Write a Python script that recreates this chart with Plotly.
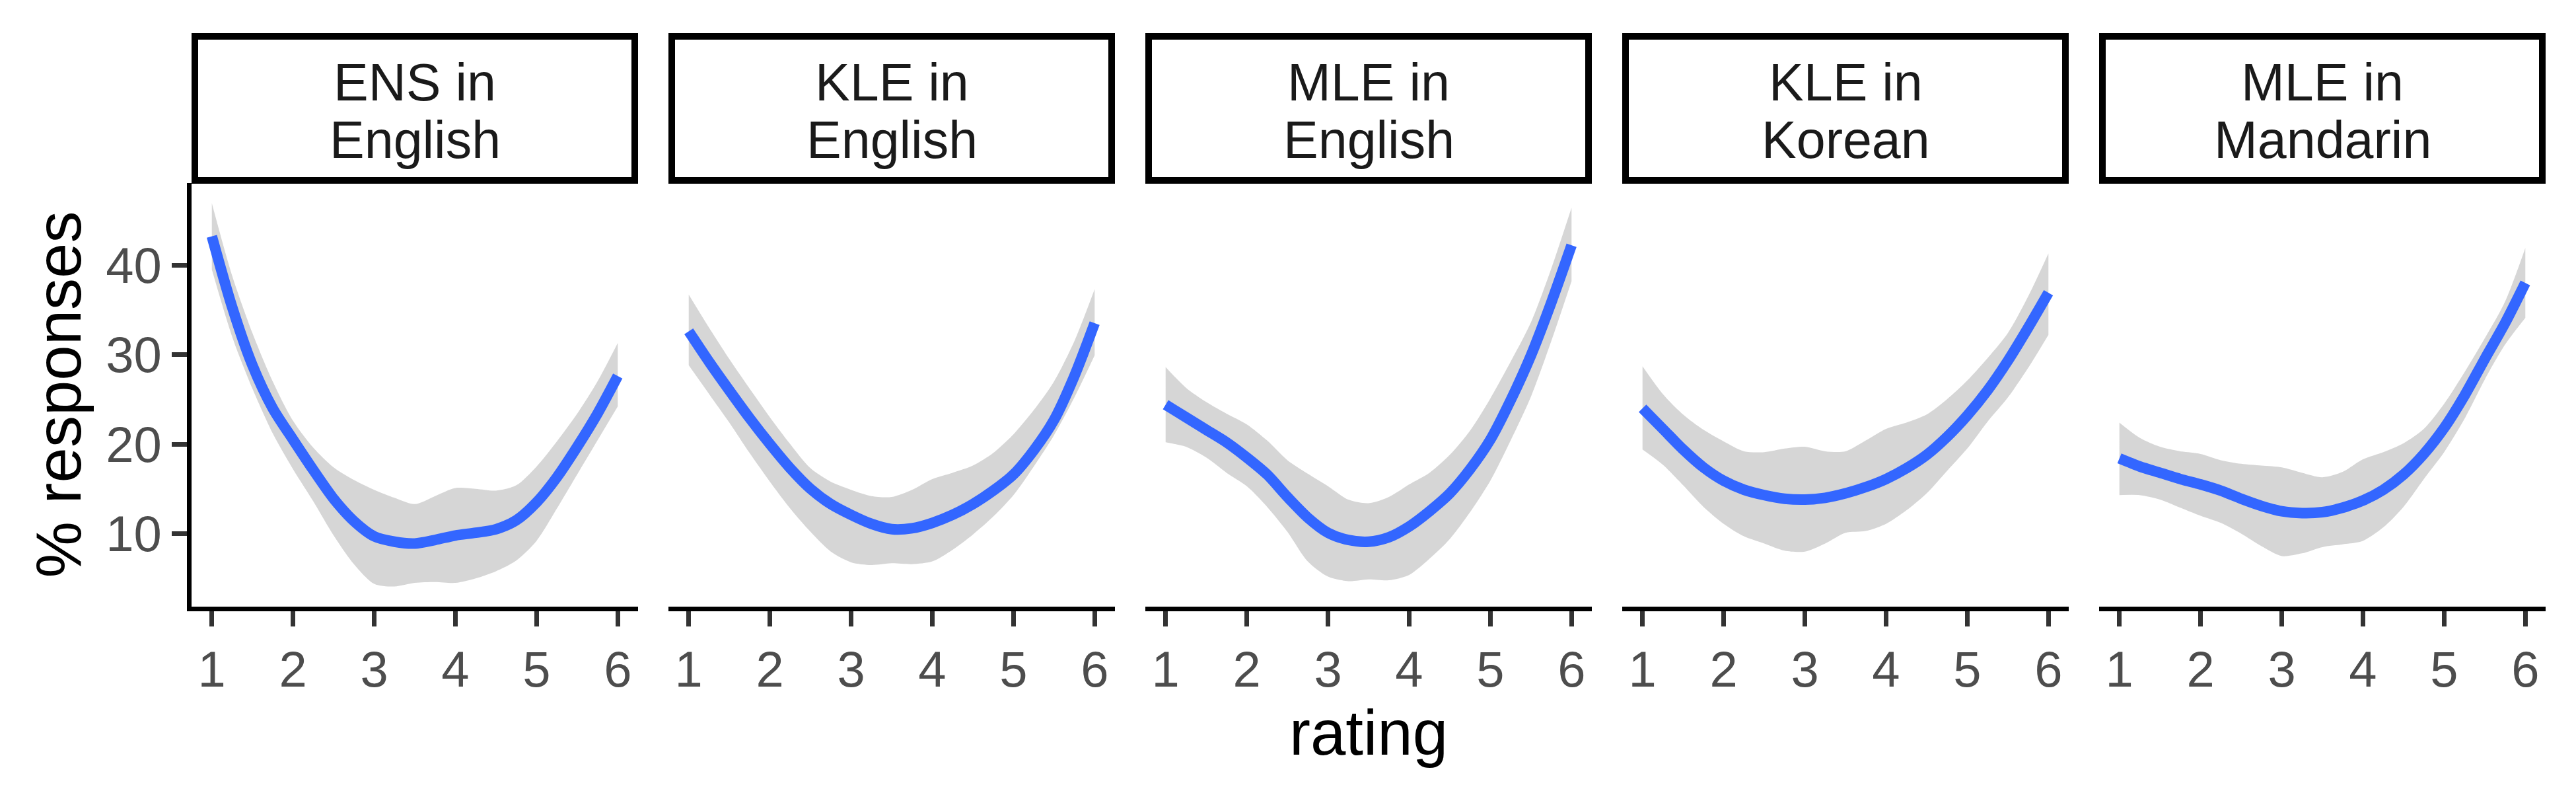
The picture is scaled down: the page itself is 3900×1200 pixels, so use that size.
import plotly.graph_objects as go

# ---------------- data ----------------
rating = [1.0, 1.25, 1.5, 1.75, 2.0, 2.25, 2.5, 2.75, 3.0, 3.25, 3.5,
          3.75, 4.0, 4.25, 4.5, 4.75, 5.0, 5.25, 5.5, 5.75, 6.0]

strip_line1 = ["ENS in", "KLE in", "MLE in", "KLE in", "MLE in"]
strip_line2 = ["English", "English", "English", "Korean", "Mandarin"]

ens_en_fit = [43.2, 35.3, 28.8, 24.0, 20.5, 17.1, 13.9, 11.4, 9.7, 9.1, 8.9,
              9.3, 9.8, 10.1, 10.5, 11.5, 13.5, 16.3, 19.7, 23.4, 27.6]
ens_en_hi = [46.9, 38.8, 32.4, 27.0, 22.6, 19.6, 17.4, 16.0, 14.9, 14.0, 13.3,
             14.2, 15.1, 15.0, 14.8, 15.4, 17.5, 20.3, 23.4, 27.0, 31.3]
ens_en_lo = [39.5, 32.0, 26.2, 21.2, 17.2, 13.6, 9.8, 6.6, 4.4, 4.1, 4.5,
             4.6, 4.5, 5.0, 5.8, 7.0, 9.2, 12.8, 16.6, 20.4, 24.2]

kle_en_fit = [32.6, 29.2, 26.0, 22.9, 20.0, 17.3, 15.0, 13.3, 12.1, 11.1, 10.5,
              10.6, 11.2, 12.1, 13.3, 14.8, 16.6, 19.3, 22.7, 27.6, 33.5]
kle_en_hi = [36.7, 33.0, 29.5, 26.2, 23.0, 20.0, 17.3, 15.8, 14.9, 14.2, 14.1,
             14.9, 16.1, 16.8, 17.6, 19.0, 21.1, 23.8, 27.0, 31.5, 37.3]
kle_en_lo = [28.8, 25.6, 22.4, 19.0, 15.8, 12.8, 10.2, 8.0, 6.8, 6.5, 6.7,
             6.6, 6.9, 8.2, 9.9, 11.9, 14.3, 17.5, 21.0, 25.2, 29.9]

mle_en_fit = [24.4, 23.0, 21.6, 20.2, 18.5, 16.6, 14.1, 11.8, 10.1, 9.3, 9.1,
              9.6, 10.8, 12.5, 14.5, 17.2, 20.5, 24.9, 29.9, 35.8, 42.2]
mle_en_hi = [28.6, 26.3, 24.7, 23.4, 22.2, 20.4, 18.2, 16.7, 15.3, 13.8, 13.4,
             14.1, 15.5, 16.8, 18.8, 21.5, 25.1, 29.2, 33.6, 39.6, 46.4]
mle_en_lo = [20.2, 19.7, 18.5, 16.8, 15.3, 13.0, 10.2, 6.9, 5.2, 4.7, 4.9,
             4.8, 5.4, 7.2, 9.4, 12.4, 15.9, 20.4, 25.3, 31.5, 38.2]

kle_ko_fit = [24.0, 21.7, 19.4, 17.4, 15.9, 14.9, 14.3, 13.9, 13.8, 14.0, 14.5,
              15.2, 16.1, 17.3, 18.8, 20.8, 23.2, 26.0, 29.3, 33.0, 36.9]
kle_ko_hi = [28.7, 25.6, 23.3, 21.6, 20.3, 19.2, 19.1, 19.5, 19.7, 19.2, 19.2,
             20.4, 21.7, 22.4, 23.3, 25.0, 27.1, 29.6, 32.4, 36.5, 41.3]
kle_ko_lo = [19.4, 17.7, 15.4, 13.0, 11.1, 9.7, 8.9, 8.1, 8.0, 8.9, 10.1,
             10.3, 11.1, 12.6, 14.5, 17.0, 19.5, 22.5, 25.2, 28.5, 32.2]

mle_zh_fit = [18.4, 17.5, 16.8, 16.1, 15.5, 14.8, 13.9, 13.1, 12.5, 12.3, 12.4,
              12.9, 13.7, 14.9, 16.6, 18.9, 21.8, 25.4, 29.5, 33.5, 38.0]
mle_zh_hi = [22.4, 20.7, 19.7, 19.2, 18.9, 18.2, 17.8, 17.6, 17.4, 16.8, 16.3,
             16.9, 18.3, 19.1, 20.1, 21.7, 24.5, 28.0, 31.8, 35.9, 41.9]
mle_zh_lo = [14.3, 14.3, 13.8, 12.9, 12.0, 11.2, 10.0, 8.6, 7.5, 7.8, 8.5,
             8.8, 9.2, 10.7, 13.0, 16.1, 19.1, 22.8, 27.2, 31.1, 34.1]

fits = [ens_en_fit, kle_en_fit, mle_en_fit, kle_ko_fit, mle_zh_fit]
his = [ens_en_hi, kle_en_hi, mle_en_hi, kle_ko_hi, mle_zh_hi]
los = [ens_en_lo, kle_en_lo, mle_en_lo, kle_ko_lo, mle_zh_lo]

x_ticks = [1, 2, 3, 4, 5, 6]
y_ticks = [10, 20, 30, 40]

# ---------------- layout geometry (pixels) ----------------
W, H = 3900, 1200
FONT = "Liberation Sans, Arial, sans-serif"
panel_left = [290, 1012, 1734, 2456, 3178]
panel_w = 676
plot_top, plot_bottom = 277, 918
strip_top = 50


def px(v):
    return v / W


def py(v):
    return (H - v) / H


fig = go.Figure()

for i in range(5):
    xa = "x" if i == 0 else f"x{i + 1}"
    fig.add_trace(go.Scatter(
        x=rating, y=los[i], xaxis=xa, yaxis="y", mode="lines",
        line=dict(width=0, color="rgba(0,0,0,0)", shape="spline", smoothing=0.8),
        showlegend=False, hoverinfo="skip"))
    fig.add_trace(go.Scatter(
        x=rating, y=his[i], xaxis=xa, yaxis="y", mode="lines",
        line=dict(width=0, color="rgba(0,0,0,0)", shape="spline", smoothing=0.8),
        fill="tonexty", fillcolor="rgba(153,153,153,0.4)",
        showlegend=False, hoverinfo="skip"))
    fig.add_trace(go.Scatter(
        x=rating, y=fits[i], xaxis=xa, yaxis="y", mode="lines",
        line=dict(width=16, color="#3366FF", shape="spline", smoothing=0.8),
        showlegend=False))

axis_common = dict(
    showline=True, linecolor="black", linewidth=7,
    ticks="outside", ticklen=23, tickwidth=7, tickcolor="#333333",
    tickfont=dict(size=76, color="#4D4D4D", family=FONT),
    showgrid=False, zeroline=False, fixedrange=True,
)

layout = dict(
    width=W, height=H,
    margin=dict(l=0, r=0, t=0, b=0),
    paper_bgcolor="white", plot_bgcolor="white",
    showlegend=False,
    font=dict(family=FONT),
)

for i in range(5):
    key = "xaxis" if i == 0 else f"xaxis{i + 1}"
    layout[key] = dict(
        domain=[px(panel_left[i]), px(panel_left[i] + panel_w)],
        anchor="y", range=[0.75, 6.25],
        tickmode="array", tickvals=x_ticks, ticktext=[str(t) for t in x_ticks],
        **axis_common)

layout["yaxis"] = dict(
    domain=[py(plot_bottom), py(plot_top)],
    anchor="x", range=[1.85, 49.15],
    tickmode="array", tickvals=y_ticks, ticktext=[str(t) for t in y_ticks],
    **axis_common)

shapes = []
annotations = []
for i in range(5):
    l = panel_left[i]
    r = l + panel_w
    shapes.append(dict(
        type="rect", xref="paper", yref="paper",
        x0=px(l + 5), x1=px(r - 5), y0=py(plot_top - 4), y1=py(strip_top + 5),
        line=dict(color="black", width=10), fillcolor="white", layer="above"))
    cx = px((l + r) / 2)
    annotations.append(dict(
        x=cx, y=py(124), xref="paper", yref="paper", showarrow=False,
        text=strip_line1[i], xanchor="center", yanchor="middle",
        font=dict(size=79, color="#1A1A1A", family=FONT)))
    annotations.append(dict(
        x=cx, y=py(212), xref="paper", yref="paper", showarrow=False,
        text=strip_line2[i], xanchor="center", yanchor="middle",
        font=dict(size=79, color="#1A1A1A", family=FONT)))

annotations.append(dict(
    x=px((panel_left[0] + panel_left[4] + panel_w) / 2), y=py(1108),
    xref="paper", yref="paper", showarrow=False, text="rating",
    xanchor="center", yanchor="middle",
    font=dict(size=96, color="black", family=FONT)))
annotations.append(dict(
    x=px(88), y=py((plot_top + plot_bottom) / 2),
    xref="paper", yref="paper", showarrow=False, text="% responses",
    textangle=-90, xanchor="center", yanchor="middle",
    font=dict(size=96, color="black", family=FONT)))

layout["shapes"] = shapes
layout["annotations"] = annotations
fig.update_layout(**layout)

fig.write_html(
    "out.html",
    config={"displayModeBar": False},
    post_script="document.body.style.margin='0';document.body.style.padding='0';",
)
